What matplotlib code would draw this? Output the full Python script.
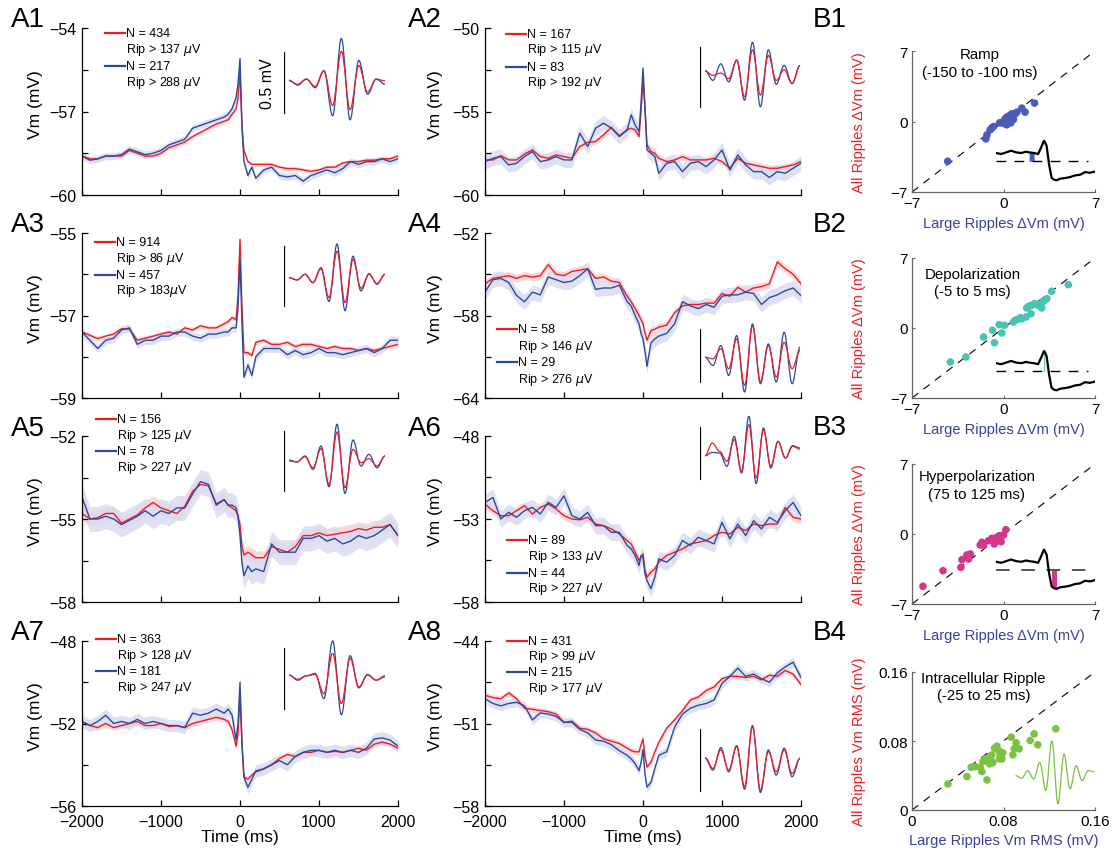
import numpy as np
import matplotlib.pyplot as plt
from matplotlib.lines import Line2D
from matplotlib.path import Path
from matplotlib.patches import PathPatch

plt.rcParams['font.family'] = ['Liberation Sans', 'DejaVu Sans']
plt.rcParams['axes.unicode_minus'] = True

# ---------------- data ----------------
# time base (ms): 100 ms steps with extra samples around the ripple peak
t_ms = np.r_[np.arange(-2000, -100, 100), [-150, -100, -50, -25, 0, 25, 50, 100, 150],
             np.arange(200, 2001, 100)]

a1_red = [-58.6, -58.7, -58.7, -58.6, -58.6, -58.6, -58.4, -58.5, -58.6, -58.6, -58.5, -58.3, -58.2, -58.1, -57.9, -57.75, -57.6, -57.45, -57.35,
          -57.3, -57.1, -56.9, -56.5, -55.6, -57.5, -58.4, -58.8, -58.9,
          -58.9, -58.9, -58.9, -59.0, -59.05, -59.05, -59.1, -59.15, -59.1, -59.0, -59.0, -58.85, -58.8, -58.8, -58.75, -58.75, -58.7, -58.7, -58.6]
a1_blue = [-58.6, -58.75, -58.7, -58.6, -58.6, -58.55, -58.35, -58.45, -58.55, -58.5, -58.4, -58.2, -58.1, -58.0, -57.6, -57.5, -57.4, -57.3, -57.2,
           -57.1, -56.9, -56.5, -56.0, -55.1, -57.6, -58.8, -59.3, -59.0,
           -59.4, -59.1, -59.0, -59.3, -59.35, -59.3, -59.5, -59.3, -59.2, -59.1, -59.2, -59.05, -58.8, -58.9, -58.8, -58.8, -58.7, -58.8, -58.7]

a2_red = [-57.9, -57.9, -57.65, -57.9, -57.9, -57.55, -57.3, -57.7, -57.8, -57.6, -57.7, -57.8, -57.1, -56.85, -56.8, -56.4, -55.95, -56.45, -56.1,
          -56.0, -56.1, -56.5, -55.0, -53.1, -54.8, -57.0, -57.4, -57.5,
          -57.8, -58.0, -57.9, -57.7, -57.9, -57.9, -57.9, -57.8, -58.0, -58.4, -57.8, -58.1, -58.2, -58.3, -58.4, -58.4, -58.3, -58.2, -58.0]
a2_blue = [-58.0, -57.8, -57.7, -58.2, -58.1, -57.7, -57.4, -58.0, -57.9, -57.7, -57.9, -57.9, -56.3, -57.1, -56.0, -55.7, -56.0, -56.5, -56.1,
           -55.2, -55.8, -56.2, -54.5, -52.4, -54.8, -57.3, -57.5, -57.7,
           -58.7, -58.1, -58.0, -58.6, -58.1, -58.0, -58.3, -57.9, -57.3, -58.5, -57.6, -58.2, -58.6, -58.6, -58.95, -58.6, -58.7, -58.4, -58.1]

a3_red = [-57.4, -57.48, -57.56, -57.5, -57.45, -57.32, -57.33, -57.6, -57.55, -57.5, -57.45, -57.4, -57.45, -57.3, -57.35, -57.25, -57.3, -57.3, -57.2,
          -57.15, -57.05, -57.1, -56.5, -55.15, -56.8, -57.9, -57.9, -57.97,
          -57.65, -57.6, -57.7, -57.7, -57.65, -57.75, -57.7, -57.7, -57.75, -57.8, -57.75, -57.8, -57.8, -57.85, -57.8, -57.85, -57.8, -57.75, -57.7]
a3_blue = [-57.4, -57.6, -57.8, -57.6, -57.55, -57.35, -57.3, -57.7, -57.6, -57.6, -57.5, -57.5, -57.4, -57.4, -57.5, -57.55, -57.45, -57.45, -57.4,
           -57.4, -57.3, -57.3, -56.8, -55.6, -57.2, -58.5, -58.2, -58.45,
           -58.0, -57.8, -57.8, -57.8, -57.95, -57.85, -57.95, -57.9, -57.8, -57.9, -57.9, -57.95, -57.9, -57.85, -57.8, -57.9, -57.8, -57.6, -57.6]

a4_red = [-55.7, -55.3, -55.2, -55.1, -55.3, -55.1, -55.2, -55.1, -54.3, -55.0, -55.1, -54.8, -54.7, -54.6, -55.3, -55.2, -55.5, -55.6, -56.6,
          -57.0, -57.5, -58.0, -58.3, -58.6, -59.3, -59.8, -59.1, -59.0,
          -58.85, -58.7, -57.8, -57.3, -57.2, -57.2, -57.1, -57.1, -56.4, -56.6, -55.95, -56.3, -56.0, -55.9, -55.7, -54.1, -54.6, -55.0, -55.7]
a4_blue = [-56.3, -55.4, -55.3, -55.6, -56.55, -57.0, -56.3, -56.5, -55.2, -55.4, -55.6, -55.5, -55.1, -54.6, -56.1, -56.0, -56.0, -55.8, -57.0,
           -57.3, -58.0, -58.6, -59.3, -59.7, -60.6, -61.7, -60.0, -59.7,
           -59.5, -59.3, -58.6, -57.0, -57.3, -57.5, -57.2, -57.4, -56.6, -56.5, -56.5, -56.3, -56.4, -57.2, -56.7, -56.5, -56.2, -56.0, -56.55]

a5_red = [-54.8, -55.0, -54.95, -54.8, -54.8, -55.15, -55.0, -54.85, -54.6, -54.4, -54.6, -54.7, -54.8, -54.55, -54.0, -53.75, -53.8, -54.45, -54.3,
          -54.5, -54.6, -54.7, -54.9, -55.2, -56.0, -56.3, -56.2, -56.3,
          -56.4, -56.4, -56.0, -56.1, -56.2, -56.0, -55.6, -55.6, -55.5, -55.6, -55.55, -55.5, -55.45, -55.35, -55.4, -55.3, -55.3, -55.2, -55.6]
a5_blue = [-54.2, -55.0, -55.0, -54.9, -55.0, -55.2, -55.05, -54.9, -54.7, -54.9, -54.7, -54.8, -54.6, -54.6, -54.1, -53.65, -53.75, -54.5, -54.3,
           -54.5, -54.5, -54.6, -54.9, -55.6, -56.6, -57.05, -56.7, -56.9,
           -56.8, -56.9, -55.9, -56.2, -56.2, -56.2, -55.7, -55.7, -55.6, -55.8, -55.7, -55.9, -55.8, -55.6, -55.7, -55.6, -55.4, -55.2, -55.6]

a6_red = [-52.1, -52.5, -52.8, -52.8, -52.5, -52.2, -52.7, -52.3, -52.1, -52.4, -52.8, -53.0, -53.05, -52.9, -53.3, -53.4, -53.6, -53.9, -54.3,
          -54.5, -55.0, -55.5, -55.3, -55.1, -56.1, -56.5, -56.2, -56.0,
          -55.6, -55.2, -55.0, -54.8, -54.5, -54.4, -54.3, -54.0, -53.8, -53.9, -53.5, -53.7, -53.3, -53.4, -53.3, -53.3, -52.3, -52.9, -53.0]
a6_blue = [-52.0, -51.7, -53.0, -52.6, -52.9, -52.5, -52.3, -52.7, -52.0, -52.3, -51.6, -52.8, -53.0, -52.6, -53.4, -53.4, -53.8, -53.8, -54.6,
           -54.8, -55.2, -55.8, -55.2, -55.3, -56.3, -56.7, -57.2, -56.5,
           -55.4, -55.6, -55.2, -54.3, -54.6, -54.1, -54.3, -54.5, -53.2, -54.2, -53.3, -54.0, -53.1, -53.6, -52.9, -53.2, -52.5, -52.0, -52.8]

a7_red = [-51.9, -52.1, -52.2, -52.0, -52.2, -52.1, -52.0, -51.9, -52.1, -52.1, -52.0, -52.15, -52.1, -52.2, -52.0, -51.9, -51.8, -51.7, -51.8,
          -51.9, -52.3, -53.1, -52.5, -50.6, -53.0, -54.6, -54.7, -54.5,
          -54.35, -54.2, -54.0, -53.7, -53.5, -53.6, -53.4, -53.4, -53.3, -53.4, -53.35, -53.4, -53.3, -53.2, -53.3, -53.0, -52.9, -53.0, -53.2]
a7_blue = [-51.9, -52.1, -51.9, -51.6, -52.0, -51.9, -52.0, -51.8, -52.0, -51.9, -52.0, -52.1, -52.1, -52.2, -51.5, -51.6, -51.5, -51.3, -51.5,
           -51.3, -51.6, -52.8, -52.0, -50.0, -53.0, -54.6, -55.1, -54.7,
           -54.3, -54.2, -54.0, -53.8, -54.0, -53.6, -53.4, -53.3, -53.3, -53.4, -53.3, -53.4, -53.3, -53.4, -53.2, -52.75, -52.7, -52.8, -53.1]

a8_red = [-48.6, -48.8, -48.9, -48.4, -48.9, -49.7, -49.8, -49.9, -50.0, -50.2, -50.9, -50.8, -51.4, -51.5, -51.8, -52.3, -52.5, -52.7, -53.1,
          -53.3, -53.4, -53.4, -52.8, -52.3, -53.8, -54.7, -54.3, -53.4,
          -52.6, -51.4, -50.7, -49.9, -49.0, -48.75, -48.2, -47.9, -47.2, -47.0, -47.0, -47.1, -47.0, -47.3, -46.9, -47.0, -46.5, -46.8, -47.7]
a8_blue = [-48.9, -49.3, -49.5, -49.3, -49.2, -49.5, -50.7, -50.1, -50.2, -50.4, -50.9, -50.9, -51.5, -51.8, -52.4, -52.5, -52.8, -53.3, -53.7,
           -54.0, -54.4, -55.0, -54.3, -53.2, -55.3, -56.4, -56.0, -54.8,
           -53.7, -53.4, -51.3, -50.2, -49.7, -49.45, -49.3, -49.0, -47.6, -47.0, -46.3, -47.0, -46.8, -47.2, -47.5, -46.7, -46.2, -45.8, -47.1]

# SEM half-widths (mV) of shaded bands
sem_red = [0.08, 0.2, 0.06, 0.3, 0.25, 0.25, 0.15, 0.25]
sem_blue = [0.13, 0.45, 0.1, 0.55, 0.45, 0.5, 0.3, 0.4]

# averaged ripple waveforms (uV, successive extrema), scale bar = 500 uV
rip_red = [
    [14, -14, 28, -33, 97, -189, 256, -222, 139, -78, 28, 14],
    [50, 14, 33, -14, 138, -165, 226, -151, 179, -28, 60, -55, 96],
    [-14, -33, 14, -55, 60, -179, 206, -220, 138, -102, 14, -63, 14],
    [-16, -31, 63, -125, 156, -281, 281, -250, 94, -203, 125, -125, 47],
    [0, -8, 36, -56, 103, -195, 242, -222, 97, -14, 19, -42, 42],
    [-26, 96, 16, -80, 128, -176, 272, -240, 224, -128, 112, -48, 64, 38],
    [28, -6, 22, 33, -124, 206, -206, 165, -69, 28, -14, 22],
    [19, -68, 81, -81, 108, -216, 270, -243, 68, -95, 81, -108, 14],
]
rip_blue = [
    [19, -22, 28, -42, 97, -272, 361, -306, 181, -97, 28, -14],
    [55, -28, 110, -41, 143, -193, 289, -248, 226, -60, 96, -55, 96],
    [-14, -33, 14, -55, 69, -212, 267, -289, 165, -124, 19, -69, 14],
    [-16, -94, 94, -188, 188, -344, 297, -266, 109, -250, 219, -266, 78],
    [8, -8, 42, -70, 125, -214, 306, -270, 175, -42, 56, -56, 42],
    [-26, 6, 0, -128, 160, -192, 352, -294, 240, -144, 112, -48, 70, 48],
    [28, -14, 22, 41, -165, 308, -297, 187, -77, 33, -14, 14],
    [14, -81, 100, -95, 116, -235, 278, -262, 81, -122, 95, -135, 14],
]

n_all = [434, 167, 914, 58, 156, 89, 363, 431]
rip_all = [137, 115, 86, 146, 125, 133, 128, 99]
n_large = [217, 83, 457, 29, 78, 44, 181, 215]
rip_large = [288, 192, 183, 276, 227, 227, 247, 177]

a_ylims = [(-60, -54), (-60, -50), (-59, -55), (-64, -52),
           (-58, -52), (-58, -48), (-56, -48), (-58, -44)]

# B panels: Large ripples (x) vs all ripples (y)
b1_x = [-4.27, -1.35, -1.27, -1.02, -0.89, -0.76, -0.13, 0.0, 0.13, 0.25, 0.38, 0.51, 0.64, 0.25, 0.56, 0.71, 0.89, 0.13, 0.38, 0.76, 1.4, 1.65, 2.37, -0.3, 1.02]
b1_y = [-3.95, -1.73, -1.33, -0.83, -0.63, -0.5, -0.13, 0.0, 0.27, 0.43, 0.53, 0.6, 0.76, -0.33, -0.13, 0.33, 0.76, -0.23, 0.0, 0.2, 1.33, 0.93, 1.83, -0.13, 0.93]
b2_x = [-4.07, -2.88, -1.53, -0.84, -0.69, -0.33, -0.13, 0.08, 0.76, 0.89, 1.09, 1.27, 1.73, 1.78, 1.98, 2.11, 2.37, 2.54, 2.75, 2.93, 3.05, 3.31, 3.69, 4.96, 1.86, 2.16, 1.4]
b2_y = [-3.4, -2.9, -0.9, -0.23, -1.47, 0.33, -0.5, 0.27, 0.6, 0.77, 0.87, 1.0, 1.1, 2.0, 2.2, 1.43, 2.43, 2.33, 2.2, 2.0, 2.67, 2.93, 3.67, 4.33, 2.1, 2.27, 0.93]
b3_x = [-6.16, -4.63, -3.26, -3.18, -2.67, -2.8, -2.54, -1.78, -1.53, -1.65, -1.15, -0.89, -0.71, -0.51, -0.31, -0.18, 0.0, 0.18, -0.64, -0.38]
b3_y = [-5.23, -3.67, -3.33, -2.57, -2.5, -2.1, -2.0, -1.1, -1.1, -0.83, -0.67, -0.43, -1.0, -0.33, -0.17, -0.77, -0.1, 0.43, -0.5, -0.67]
b4_x = [0.0314, 0.048, 0.0518, 0.0553, 0.0596, 0.0611, 0.062, 0.064, 0.0655, 0.0678, 0.0684, 0.0698, 0.0707, 0.0722, 0.0742,
        0.0756, 0.0771, 0.0786, 0.0794, 0.0867, 0.0882, 0.0893, 0.0911, 0.0937, 0.1033, 0.1068, 0.11, 0.1257, 0.0765, 0.0698]
b4_y = [0.0302, 0.0387, 0.0496, 0.0504, 0.0496, 0.0446, 0.0562, 0.0593, 0.0349, 0.0535, 0.062, 0.0639, 0.0554, 0.0717, 0.074,
        0.069, 0.0632, 0.0593, 0.0663, 0.0845, 0.0639, 0.0709, 0.0779, 0.0709, 0.0806, 0.0883, 0.0756, 0.0941, 0.0593, 0.0546]

# schematic average trace used in the B1-B3 insets (ms, mV re. baseline)
b_inset_t = [-480, -430, -380, -330, -280, -230, -180, -150, -100, -60, -25, -5, 0, 5, 25, 50, 75, 100, 125, 160, 210, 260, 310, 360, 410, 460, 510]
b_inset_vm = [2.5, 2.2, 2.7, 3.2, 2.7, 2.5, 2.9, 2.7, 2.5, 2.2, 4.5, 6.0, 6.2, 6.0, 4.7, -1.0, -5.0, -5.6, -5.8, -5.3, -5.1, -4.8, -4.3, -4.1, -3.3, -3.5, -3.1]
b_windows = [(-150, -100), (-5, 5), (75, 125)]
b4_ripple = [0, -0.8, 1.5, -1.0, 4.0, -4.5, 10.5, -8.5, 6.5, -4.0, 3.0, -1.5, 1.5, 1.2]

# ---------------- style / layout ----------------
RED = '#ec1c24'
BLUE = '#2c4a9e'
RED_BAND = '#fbd0d3'
BLUE_BAND = '#d7daf0'
B_COLORS = ['#4a5cb8', '#47c4b2', '#d4368a', '#7cc242']
XLAB_BLUE = '#3a3f9c'
MINUS = '\u2212'

W, H = 1112, 854
fig = plt.figure(figsize=(W / 100, H / 100), dpi=100)


def px_axes(x0, y0, x1, y1):
    return fig.add_axes([x0 / W, 1 - y1 / H, (x1 - x0) / W, (y1 - y0) / H])


def fx(x):
    return x / W


def fy(y):
    return 1 - y / H


def fmt(v):
    return f'{v:g}'.replace('-', MINUS)


def smooth_wave(ax, x, y, color, lw):
    # extrema joined by curves with flat tangents at each extremum
    verts = [(x[0], y[0])]
    codes = [Path.MOVETO]
    for k in range(len(x) - 1):
        d = (x[k + 1] - x[k]) * 0.36
        verts += [(x[k] + d, y[k]), (x[k + 1] - d, y[k + 1]), (x[k + 1], y[k + 1])]
        codes += [Path.CURVE4] * 3
    ax.add_patch(PathPatch(Path(verts, codes), fill=False, edgecolor=color, lw=lw, clip_on=False))


cols = [(82, 398), (485, 801)]
rows = [(29, 196), (234, 399), (437, 603), (642, 807)]
legend_pos = [(105, [34, 50, 67, 83]), (506, [35, 50, 68, 83]),
              (95, [243, 259, 276, 291]), (497, [330, 347, 363, 380]),
              (96, [420, 436, 452, 468]), (507, [541, 557, 574, 589]),
              (96, [640, 656, 672, 688]), (507, [642, 657, 673, 689])]
inset_pos = [(284, 53, 114, 385), (700, 48, 108, 800),
             (284, 247, 307, 385), (700, 330, 383, 800),
             (284, 432, 492, 385), (700, 428, 480, 800),
             (284, 649, 710, 385), (700, 730, 792, 800)]

a_red = [a1_red, a2_red, a3_red, a4_red, a5_red, a6_red, a7_red, a8_red]
a_blue = [a1_blue, a2_blue, a3_blue, a4_blue, a5_blue, a6_blue, a7_blue, a8_blue]

for i in range(8):
    c, r = i % 2, i // 2
    ax = px_axes(cols[c][0], rows[r][0], cols[c][1], rows[r][1])
    red = np.array(a_red[i])
    blue = np.array(a_blue[i])
    ax.fill_between(t_ms, red - sem_red[i], red + sem_red[i], color=RED_BAND, lw=0, alpha=0.8)
    ax.fill_between(t_ms, blue - sem_blue[i], blue + sem_blue[i], color=BLUE_BAND, lw=0, alpha=0.8)
    ax.plot(t_ms, red, color=RED, lw=1.0)
    ax.plot(t_ms, blue, color=BLUE, lw=1.0)

    y0, y1 = a_ylims[i]
    ax.set_xlim(-2000, 2000)
    ax.set_ylim(y0, y1)
    yt = np.linspace(y0, y1, 5)
    ax.set_yticks(yt)
    ax.set_yticklabels([fmt(v) if k % 2 == 0 else '' for k, v in enumerate(yt)])
    ax.set_xticks([-2000, -1000, 0, 1000, 2000])
    for s in ['top', 'right']:
        ax.spines[s].set_visible(False)
    for s in ['left', 'bottom']:
        ax.spines[s].set_linewidth(0.9)
    ax.tick_params(direction='in', length=4, width=0.9, labelsize=11.5, pad=4)
    ax.tick_params(axis='x', pad=5.5)
    if r == 3:
        ax.set_xlabel('Time (ms)', fontsize=12.5, labelpad=0)
    else:
        ax.set_xticklabels([])
    ax.set_ylabel('Vm (mV)', fontsize=12.5)
    ax.yaxis.set_label_coords(-0.123 if c == 0 else -0.133, 0.55)
    ax.patch.set_alpha(0)

    # panel label
    lx = 11 if c == 0 else 408
    ly = [20, 225, 429, 633][r]
    fig.text(fx(lx), fy(ly), f'A{i + 1}', fontsize=20, ha='left', va='center')

    # legend
    lx0, lys = legend_pos[i]
    for color, yy, n in [(RED, lys[0], n_all[i]), (BLUE, lys[2], n_large[i])]:
        fig.add_artist(Line2D([fx(lx0), fx(lx0 + 20)], [fy(yy), fy(yy)], color=color, lw=1.6,
                              transform=fig.transFigure))
        fig.text(fx(lx0 + 21), fy(yy), f'N = {n}', fontsize=9, va='center', ha='left')
    fig.text(fx(lx0 + 21), fy(lys[1]), rf'Rip > {rip_all[i]} $\mu$V', fontsize=9, va='center')
    sp = '' if i == 2 else ' '
    fig.text(fx(lx0 + 21), fy(lys[3]), rf'Rip > {rip_large[i]}{sp}$\mu$V', fontsize=9, va='center')

    # ripple inset with 0.5 mV scale bar
    bx, btop, bbot, bend = inset_pos[i]
    blen = bbot - btop
    bmid = (btop + bbot) / 2
    iax = px_axes(bx, bmid - blen, bend, bmid + blen)
    iax.set_xlim(0, bend - bx)
    iax.set_ylim(-500, 500)
    iax.axis('off')
    iax.plot([0, 0], [-250, 250], color='k', lw=0.9)
    xr = np.linspace(5, bend - bx, len(rip_blue[i]))
    smooth_wave(iax, xr, rip_blue[i], BLUE, 0.9)
    smooth_wave(iax, xr, rip_red[i], RED, 0.9)
    if i == 0:
        fig.text(fx(267), fy(bmid), '0.5 mV', rotation=90, fontsize=11.5, ha='center', va='center')

# ---------------- B panels ----------------
b_rows = [(52, 193), (259, 399), (465, 605), (673, 811)]
b_data = [(b1_x, b1_y), (b2_x, b2_y), (b3_x, b3_y), (b4_x, b4_y)]
b_titles = ['Ramp\n(-150 to -100 ms)', 'Depolarization\n(-5 to 5 ms)',
            'Hyperpolarization\n(75 to 125 ms)', 'Intracellular Ripple\n(-25 to 25 ms)']
b_title_pos = [(0.37, 0.915), (0.33, 0.825), (0.355, 0.85), (0.39, 0.895)]
b_inset_center = [0.218, 0.19, 0.243]
b_label_y = [20, 225, 428, 633]

for j in range(4):
    ax = px_axes(912, b_rows[j][0], 1095, b_rows[j][1])
    bx_, by_ = b_data[j]
    if j < 3:
        lim = (-7, 7)
        ticks = [-7, 0, 7]
        labels = [MINUS + '7', '0', '7']
        xl, yl = 'Large Ripples \u0394Vm (mV)', 'All Ripples \u0394Vm (mV)'
    else:
        lim = (0, 0.16)
        ticks = [0, 0.08, 0.16]
        labels = ['0', '0.08', '0.16']
        xl, yl = 'Large Ripples Vm RMS (mV)', 'All Ripples Vm RMS (mV)'
    ax.plot(lim, lim, color='k', lw=0.8, ls=(0, (7, 6)))
    ax.scatter(bx_, by_, s=30, color=B_COLORS[j], edgecolors='none', zorder=3, clip_on=False)
    ax.set_xlim(lim)
    ax.set_ylim(lim)
    ax.set_xticks(ticks)
    ax.set_yticks(ticks)
    ax.set_xticklabels(labels)
    ax.set_yticklabels(labels)
    for s in ['top', 'right']:
        ax.spines[s].set_visible(False)
    for s in ['left', 'bottom']:
        ax.spines[s].set_color('#666666')
        ax.spines[s].set_linewidth(0.9)
    ax.tick_params(direction='in', length=2, width=0.8, labelsize=11, pad=3, color='#666666')
    ax.set_xlabel(xl, color=XLAB_BLUE, fontsize=10.5)
    ax.xaxis.set_label_coords(0.5, -0.17)
    ax.set_ylabel(yl, color=RED, fontsize=10.5)
    ax.yaxis.set_label_coords(-0.25, 0.5)
    ax.patch.set_alpha(0)
    tx, ty = b_title_pos[j]
    ax.text(tx, ty, b_titles[j], transform=ax.transAxes, ha='center', va='center',
            fontsize=10.8, linespacing=1.35)
    fig.text(fx(813), fy(b_label_y[j]), f'B{j + 1}', fontsize=20, ha='left', va='center')

    if j < 3:
        h = 0.327
        iax = ax.inset_axes([0.46, b_inset_center[j] - h / 2, 0.54, h])
        iax.set_xlim(-480, 510)
        iax.set_ylim(-7, 7)
        iax.axis('off')
        bt = np.array(b_inset_t)
        bv = np.array(b_inset_vm)
        w0, w1 = b_windows[j]
        sel = (bt >= w0) & (bt <= w1)
        iax.fill_between(bt, 0, bv, where=sel, color=B_COLORS[j], lw=0)
        dcol = '#555555' if j == 2 else 'k'
        iax.plot([-480, 443], [0, 0], color=dcol, lw=1.0 if j < 2 else 1.4, ls=(0, (7, 6)))
        iax.plot(bt, bv, color='k', lw=1.6)
    else:
        h = 0.478
        iax = ax.inset_axes([0.566, 0.249 - h / 2, 0.43, h])
        iax.set_xlim(0, len(b4_ripple) - 1)
        iax.set_ylim(-10, 10)
        iax.axis('off')
        smooth_wave(iax, np.arange(len(b4_ripple)), b4_ripple, B_COLORS[3], 0.9)

fig.savefig('out.png', dpi=100)
